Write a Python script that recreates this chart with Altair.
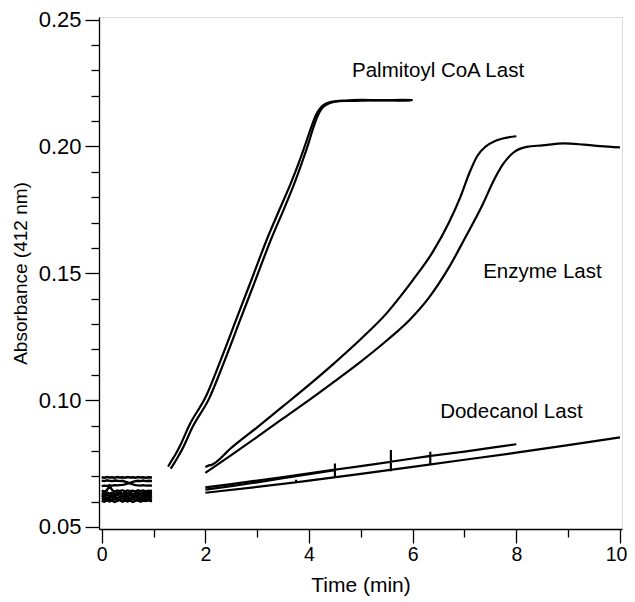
import altair as alt
import pandas as pd

# ---- baseline traces (0 - 1 min) ----
b_t20 = [0.0, 0.05, 0.1, 0.15, 0.2, 0.25, 0.3, 0.35, 0.4, 0.45, 0.5, 0.55, 0.6, 0.65, 0.7, 0.75, 0.8, 0.85, 0.9, 0.97]
b1_y = [0.0696, 0.0694, 0.0697, 0.0695, 0.0696, 0.0694, 0.0697, 0.0695, 0.0696, 0.0694, 0.0697, 0.0695, 0.0696, 0.0694, 0.0697, 0.0695, 0.0696, 0.0694, 0.0696, 0.0695]
b2_y = [0.0683, 0.0681, 0.0684, 0.0682, 0.0681, 0.0683, 0.0682, 0.0681, 0.0682, 0.0679, 0.0676, 0.0672, 0.0668, 0.0665, 0.0664, 0.0663, 0.0665, 0.0663, 0.0664, 0.0663]
b3_y = [0.0661, 0.0663, 0.0662, 0.0664, 0.0663, 0.0665, 0.0664, 0.0665, 0.0666, 0.0668, 0.0671, 0.0674, 0.0678, 0.0681, 0.0682, 0.0681, 0.0683, 0.0681, 0.0682, 0.0681]
b4_y = [0.0643, 0.0640, 0.0645, 0.0662, 0.0646, 0.0639, 0.0644, 0.0641, 0.0645, 0.0640, 0.0644, 0.0641, 0.0643, 0.0640, 0.0645, 0.0641, 0.0644, 0.0640, 0.0643, 0.0642]
b5_y = [0.0634, 0.0631, 0.0636, 0.0632, 0.0635, 0.0630, 0.0634, 0.0637, 0.0631, 0.0635, 0.0632, 0.0636, 0.0630, 0.0634, 0.0636, 0.0631, 0.0635, 0.0633, 0.0636, 0.0632]
b6_y = [0.0626, 0.0623, 0.0628, 0.0624, 0.0627, 0.0622, 0.0626, 0.0629, 0.0623, 0.0627, 0.0624, 0.0628, 0.0622, 0.0626, 0.0628, 0.0623, 0.0627, 0.0625, 0.0628, 0.0624]
b7_y = [0.0618, 0.0621, 0.0615, 0.0620, 0.0617, 0.0621, 0.0614, 0.0619, 0.0622, 0.0616, 0.0620, 0.0615, 0.0621, 0.0617, 0.0619, 0.0614, 0.0620, 0.0617, 0.0621, 0.0616]
b8_y = [0.0610, 0.0612, 0.0607, 0.0611, 0.0608, 0.0612, 0.0606, 0.0610, 0.0613, 0.0607, 0.0611, 0.0606, 0.0612, 0.0608, 0.0610, 0.0605, 0.0611, 0.0608, 0.0612, 0.0607]
b9_y = [0.0603, 0.0600, 0.0605, 0.0601, 0.0604, 0.0599, 0.0603, 0.0606, 0.0600, 0.0604, 0.0601, 0.0605, 0.0599, 0.0603, 0.0605, 0.0600, 0.0604, 0.0602, 0.0605, 0.0601]

# ---- Palmitoyl CoA Last ----
p1_t = [1.28, 1.35, 1.42, 1.50, 1.70, 2.00, 2.30, 2.60, 2.90, 3.20, 3.45, 3.65, 3.82, 3.95, 4.05, 4.13, 4.22, 4.32, 4.45, 4.70, 5.00, 5.40, 5.80, 6.00]
p1_y = [0.0738, 0.0762, 0.0785, 0.0815, 0.0905, 0.1010, 0.1160, 0.1320, 0.1480, 0.1640, 0.1760, 0.1855, 0.1945, 0.2020, 0.2080, 0.2122, 0.2152, 0.2168, 0.2177, 0.2181, 0.2183, 0.2181, 0.2183, 0.2182]
p2_t = [1.33, 1.40, 1.47, 1.55, 1.76, 2.07, 2.37, 2.67, 2.97, 3.27, 3.52, 3.71, 3.87, 3.99, 4.08, 4.16, 4.25, 4.35, 4.48, 4.70, 5.00, 5.40, 5.80, 5.95]
p2_y = [0.0730, 0.0752, 0.0776, 0.0805, 0.0897, 0.1005, 0.1155, 0.1315, 0.1475, 0.1635, 0.1755, 0.1850, 0.1940, 0.2012, 0.2072, 0.2117, 0.2150, 0.2166, 0.2175, 0.2179, 0.2180, 0.2182, 0.2180, 0.2181]

# ---- Enzyme Last ----
e1_t = [2.00, 2.06, 2.12, 2.50, 3.00, 3.50, 4.00, 4.50, 5.00, 5.50, 5.76, 6.00, 6.40, 6.70, 6.92, 7.10, 7.25, 7.40, 7.60, 8.00]
e1_y = [0.0736, 0.0742, 0.0745, 0.0812, 0.0893, 0.0976, 0.1060, 0.1148, 0.1241, 0.1343, 0.1408, 0.1472, 0.1588, 0.1700, 0.1800, 0.1898, 0.1963, 0.1998, 0.2022, 0.2040]
e2_t = [2.00, 2.50, 3.00, 3.50, 4.00, 4.50, 5.00, 5.50, 5.95, 6.30, 6.72, 7.00, 7.36, 7.55, 7.75, 7.94, 8.20, 8.50, 8.92, 9.30, 9.62, 10.00]
e2_y = [0.0713, 0.0783, 0.0855, 0.0928, 0.1000, 0.1075, 0.1152, 0.1235, 0.1318, 0.1400, 0.1530, 0.1635, 0.1775, 0.1860, 0.1932, 0.1975, 0.1998, 0.2004, 0.2012, 0.2007, 0.2001, 0.1996]

# ---- Dodecanol Last ----
d1_t = [2.00, 2.50, 3.00, 3.50, 4.00, 4.50, 4.50, 4.50, 4.50, 5.00, 5.58, 5.58, 5.58, 5.58, 6.00, 6.34, 6.34, 6.34, 6.34, 7.00, 7.50, 8.00]
d1_y = [0.0656, 0.0669, 0.0683, 0.0697, 0.0711, 0.0726, 0.0750, 0.0694, 0.0726, 0.0740, 0.0757, 0.0803, 0.0720, 0.0757, 0.0770, 0.0780, 0.0797, 0.0746, 0.0780, 0.0797, 0.0812, 0.0826]
d2_t = [2.00, 2.50, 3.00, 3.50, 4.00, 4.50]
d2_y = [0.0647, 0.0661, 0.0676, 0.0692, 0.0708, 0.0724]
d3_t = [2.00, 3.00, 3.75, 3.75, 3.75, 4.00, 5.00, 5.57, 6.00, 7.00, 8.00, 9.00, 10.00]
d3_y = [0.0635, 0.0658, 0.0676, 0.0686, 0.0676, 0.0683, 0.0709, 0.0725, 0.0737, 0.0765, 0.0793, 0.0823, 0.0853]

# ---- annotations ----
label_text = ["Palmitoyl CoA Last", "Enzyme Last", "Dodecanol Last"]
label_x = [4.83, 7.36, 6.53]
label_y = [0.2274, 0.1481, 0.0928]


def frame(traces):
    rows = []
    for name, (ts, ys) in traces.items():
        for i, (t, y) in enumerate(zip(ts, ys)):
            rows.append({"trace": name, "i": i, "t": t, "a": y})
    return pd.DataFrame(rows)


df_base = frame({"b1": (b_t20, b1_y), "b2": (b_t20, b2_y), "b3": (b_t20, b3_y),
                 "b4": (b_t20, b4_y), "b5": (b_t20, b5_y), "b6": (b_t20, b6_y),
                 "b7": (b_t20, b7_y), "b8": (b_t20, b8_y), "b9": (b_t20, b9_y)})
df_smooth = frame({"p1": (p1_t, p1_y), "p2": (p2_t, p2_y),
                   "e1": (e1_t, e1_y), "e2": (e2_t, e2_y)})
df_lin = frame({"d1": (d1_t, d1_y), "d2": (d2_t, d2_y), "d3": (d3_t, d3_y)})
lab = pd.DataFrame({"text": label_text, "t": label_x, "a": label_y})

FONT = "Liberation Sans"
xvals = list(range(0, 11))
yvals = [round(0.05 + 0.01 * k, 2) for k in range(21)]

xscale = alt.Scale(domain=[-0.052, 10.039], nice=False, zero=False)
yscale = alt.Scale(domain=[0.04921, 0.251], nice=False, zero=False)

xaxis = alt.Axis(
    values=xvals, tickCount=100, title="Time (min)", grid=False,
    tickSize=alt.condition("datum.value % 2 == 0", alt.value(14), alt.value(8)),
    labelExpr="datum.value % 2 == 0 ? format(datum.value, 'd') : ''",
    labelOffset=alt.condition("datum.value == 10", alt.value(-4), alt.value(0)),
    tickColor="black", tickWidth=1.3, domainColor="black", domainWidth=1.3,
    labelColor="black", labelFont=FONT, labelFontSize=19.5, labelPadding=2,
    titleColor="black", titleFont=FONT, titleFontSize=21, titleFontWeight="normal",
    titlePadding=11, labelOverlap=False, labelFlush=False,
)
yaxis = alt.Axis(
    values=yvals, tickCount=100, title="Absorbance (412 nm)", grid=False,
    tickSize=alt.condition("round(datum.value*100) % 5 == 0", alt.value(14), alt.value(8)),
    labelExpr="round(datum.value*100) % 5 == 0 ? format(datum.value, '.2f') : ''",
    tickColor="black", tickWidth=1.3, domainColor="black", domainWidth=1.3,
    labelColor="black", labelFont=FONT, labelFontSize=22, labelPadding=4,
    titleColor="black", titleFont=FONT, titleFontSize=19, titleFontWeight="normal",
    titlePadding=8, labelOverlap=False, labelFlush=False,
)

X = alt.X("t:Q", scale=xscale, axis=xaxis)
Y = alt.Y("a:Q", scale=yscale, axis=yaxis)

base = alt.Chart(df_base).mark_line(color="black", strokeWidth=2.4, clip=True).encode(
    x=X, y=Y, detail="trace:N", order="i:Q")
smooth = alt.Chart(df_smooth).mark_line(color="black", strokeWidth=2.2, interpolate="monotone", clip=True).encode(
    x=X, y=Y, detail="trace:N", order="i:Q")
lin = alt.Chart(df_lin).mark_line(color="black", strokeWidth=2.2, clip=True).encode(
    x=X, y=Y, detail="trace:N", order="i:Q")

texts = alt.Chart(lab).mark_text(
    align="left", baseline="alphabetic", font=FONT, fontSize=20.5, color="black"
).encode(
    x=alt.X("t:Q", scale=xscale),
    y=alt.Y("a:Q", scale=yscale),
    text="text:N",
)

chart = alt.layer(base, smooth, lin, texts).properties(
    width=523, height=512,
    autosize=alt.AutoSizeParams(type="none"),
    padding={"left": 91, "top": 9, "right": 5, "bottom": 72},
).configure_view(stroke="black", strokeWidth=1.3).configure(background="white")

chart.save("out.html", embed_options={"renderer": "svg", "actions": False})
